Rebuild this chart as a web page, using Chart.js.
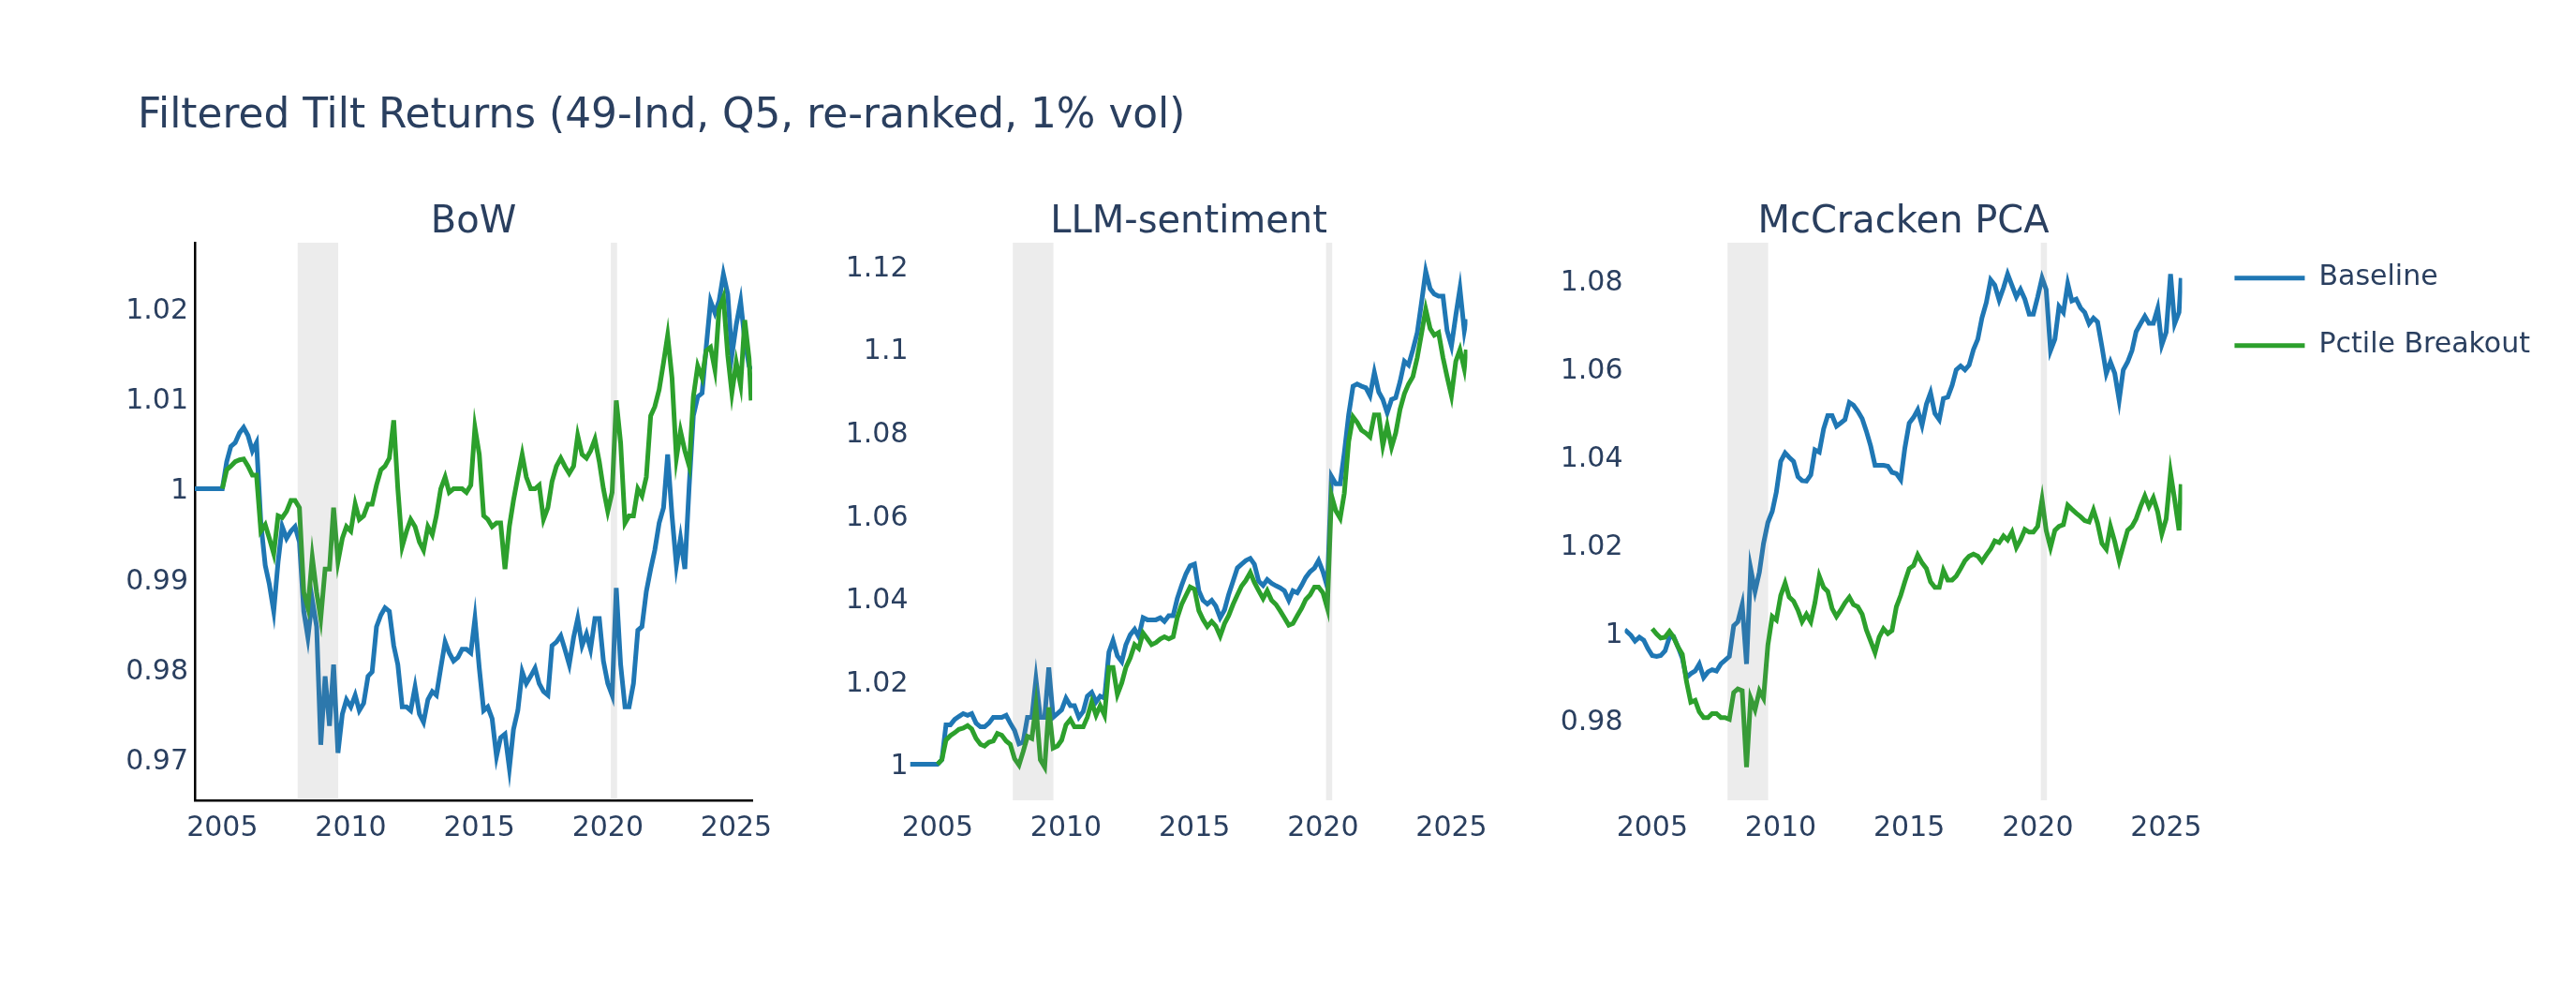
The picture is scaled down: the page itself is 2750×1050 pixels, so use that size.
<!DOCTYPE html>
<html>
<head>
<meta charset="utf-8">
<script src="https://cdn.jsdelivr.net/npm/chart.js@4.4.1/dist/chart.umd.min.js"></script>
<style>
html,body{margin:0;padding:0;background:#fff;}
#wrap{position:relative;width:2750px;height:1050px;background:#fff;overflow:hidden;}
#wrap canvas{position:absolute;left:0;top:0;}
</style>
</head>
<body>
<div id="wrap">
<canvas id="c0" width="2750" height="1050"></canvas>
<canvas id="c1" width="2750" height="1050"></canvas>
<canvas id="c2" width="2750" height="1050"></canvas>
<canvas id="c3" width="2750" height="1050"></canvas>
</div>
<script>
// ---------------- DATA ----------------
const mainTitle = 'Filtered Tilt Returns (49-Ind, Q5, re-ranked, 1% vol)';
const panelTitles = ['BoW', 'LLM-sentiment', 'McCracken PCA'];
const seriesNames = ['Baseline', 'Pctile Breakout'];
const seriesColors = ['#1f77b4', '#2ca02c'];

const years = [
  2003.93,2004.17,2004.33,2004.5,2004.67,2004.83,
  2005,2005.17,2005.33,2005.5,2005.67,2005.83,
  2006,2006.17,2006.33,2006.5,2006.67,2006.83,
  2007,2007.17,2007.33,2007.5,2007.67,2007.83,
  2008,2008.17,2008.33,2008.5,2008.67,2008.83,
  2009,2009.17,2009.33,2009.5,2009.67,2009.83,
  2010,2010.17,2010.33,2010.5,2010.67,2010.83,
  2011,2011.17,2011.33,2011.5,2011.67,2011.83,
  2012,2012.17,2012.33,2012.5,2012.67,2012.83,
  2013,2013.17,2013.33,2013.5,2013.67,2013.83,
  2014,2014.17,2014.33,2014.5,2014.67,2014.83,
  2015,2015.17,2015.33,2015.5,2015.67,2015.83,
  2016,2016.17,2016.33,2016.5,2016.67,2016.83,
  2017,2017.17,2017.33,2017.5,2017.67,2017.83,
  2018,2018.17,2018.33,2018.5,2018.67,2018.83,
  2019,2019.17,2019.33,2019.5,2019.67,2019.83,
  2020,2020.17,2020.33,2020.5,2020.67,2020.83,
  2021,2021.17,2021.33,2021.5,2021.67,2021.83,
  2022,2022.17,2022.33,2022.5,2022.67,2022.83,
  2023,2023.17,2023.33,2023.5,2023.67,2023.83,
  2024,2024.17,2024.33,2024.5,2024.67,2024.83,
  2025,2025.17,2025.33,2025.5,2025.58
];

const bowBaseline = [
  1,1,1,1,1,1,
  1.0000,1.0030,1.0047,1.0051,1.0062,1.0068,1.0059,1.0042,1.0051,0.9962,
  0.9915,0.9894,0.9864,0.9919,0.9958,0.9945,0.9953,0.9958,0.9941,0.9864,
  0.9835,0.9877,0.9847,0.9716,0.9792,0.9737,0.9805,0.9707,0.9750,0.9766,
  0.9758,0.9771,0.9754,0.9762,0.9792,0.9797,0.9847,0.9860,0.9868,0.9864,
  0.9826,0.9805,0.9758,0.9758,0.9754,0.9780,0.9750,0.9741,0.9766,0.9775,
  0.9771,0.9801,0.9830,0.9818,0.9809,0.9813,0.9822,0.9822,0.9818,0.9856,
  0.9801,0.9754,0.9758,0.9745,0.9703,0.9724,0.9728,0.9690,0.9733,0.9754,
  0.9797,0.9784,0.9792,0.9801,0.9784,0.9775,0.9771,0.9826,0.9830,0.9837,
  0.9822,0.9805,0.9835,0.9856,0.9826,0.9839,0.9822,0.9856,0.9856,0.9809,
  0.9784,0.9771,0.9890,0.9805,0.9758,0.9758,0.9784,0.9843,0.9847,0.9886,
  0.9911,0.9932,0.9962,0.9979,1.0038,0.9970,0.9915,0.9945,0.9911,1.0004,
  1.0081,1.0102,1.0106,1.0157,1.0208,1.0195,1.0208,1.0238,1.0216,1.0148,
  1.0182,1.0208,1.0165,1.0136,1.0132
];
const bowBreakout = [
  null,null,null,null,null,null,
  1.0000,1.0021,1.0025,1.0030,1.0032,1.0033,1.0025,1.0015,1.0015,0.9953,
  0.9960,0.9945,0.9928,0.9970,0.9968,0.9975,0.9987,0.9987,0.9979,0.9885,
  0.9868,0.9924,0.9885,0.9856,0.9911,0.9911,0.9979,0.9919,0.9945,0.9958,
  0.9953,0.9983,0.9966,0.9970,0.9983,0.9983,1.0004,1.0021,1.0025,1.0034,
  1.0076,1.0000,0.9936,0.9953,0.9966,0.9958,0.9941,0.9932,0.9958,0.9949,
  0.9970,1.0000,1.0013,0.9996,1.0000,1.0000,1.0000,0.9996,1.0004,1.0068,
  1.0038,0.9970,0.9966,0.9958,0.9962,0.9962,0.9911,0.9958,0.9987,1.0013,
  1.0038,1.0013,1.0000,1.0000,1.0004,0.9966,0.9979,1.0008,1.0025,1.0034,
  1.0025,1.0017,1.0025,1.0059,1.0038,1.0034,1.0042,1.0055,1.0030,1.0000,
  0.9975,0.9996,1.0098,1.0051,0.9962,0.9970,0.9970,1.0000,0.9992,1.0013,
  1.0081,1.0091,1.0110,1.0140,1.0170,1.0123,1.0034,1.0064,1.0042,1.0025,
  1.0102,1.0136,1.0123,1.0153,1.0157,1.0132,1.0199,1.0212,1.0148,1.0106,
  1.0140,1.0115,1.0187,1.0144,1.0098
];

const llmBaseline = [
  1,1,1,1,1,1,
  1.0000,1.0011,1.0095,1.0095,1.0108,1.0115,1.0122,1.0118,1.0122,1.0099,
  1.0090,1.0090,1.0099,1.0113,1.0113,1.0113,1.0118,1.0099,1.0081,1.0049,
  1.0053,1.0113,1.0113,1.0205,1.0113,1.0113,1.0233,1.0113,1.0122,1.0131,
  1.0159,1.0141,1.0141,1.0113,1.0127,1.0164,1.0173,1.0150,1.0164,1.0159,
  1.0270,1.0298,1.0261,1.0247,1.0288,1.0312,1.0325,1.0307,1.0353,1.0348,
  1.0348,1.0348,1.0353,1.0344,1.0358,1.0358,1.0399,1.0431,1.0459,1.0478,
  1.0482,1.0418,1.0395,1.0386,1.0395,1.0381,1.0353,1.0372,1.0409,1.0441,
  1.0473,1.0482,1.0491,1.0496,1.0482,1.0441,1.0431,1.0445,1.0436,1.0430,
  1.0425,1.0418,1.0395,1.0418,1.0413,1.0431,1.0450,1.0464,1.0473,1.0491,
  1.0464,1.0427,1.0694,1.0676,1.0676,1.0750,1.0842,1.0911,1.0916,1.0911,
  1.0907,1.0888,1.0944,1.0897,1.0879,1.0847,1.0879,1.0883,1.0922,1.0971,
  1.0962,1.0999,1.1040,1.1110,1.1188,1.1146,1.1133,1.1128,1.1128,1.1045,
  1.1008,1.1082,1.1146,1.1045,1.1073
];
const llmBreakout = [
  null,null,null,null,null,null,
  1.0000,1.0011,1.0058,1.0069,1.0076,1.0084,1.0087,1.0093,1.0085,1.0062,
  1.0048,1.0044,1.0053,1.0056,1.0074,1.0070,1.0056,1.0048,1.0013,0.9998,
  1.0030,1.0067,1.0062,1.0141,1.0011,0.9993,1.0137,1.0039,1.0044,1.0058,
  1.0095,1.0108,1.0090,1.0090,1.0090,1.0113,1.0150,1.0118,1.0141,1.0118,
  1.0233,1.0233,1.0168,1.0196,1.0233,1.0256,1.0288,1.0279,1.0316,1.0302,
  1.0288,1.0293,1.0302,1.0307,1.0302,1.0307,1.0353,1.0385,1.0407,1.0427,
  1.0422,1.0370,1.0349,1.0332,1.0344,1.0333,1.0309,1.0339,1.0358,1.0385,
  1.0408,1.0429,1.0443,1.0462,1.0438,1.0418,1.0399,1.0418,1.0395,1.0385,
  1.0370,1.0353,1.0335,1.0339,1.0358,1.0376,1.0397,1.0408,1.0427,1.0427,
  1.0413,1.0376,1.0648,1.0611,1.0593,1.0653,1.0777,1.0837,1.0824,1.0805,
  1.0798,1.0789,1.0842,1.0842,1.0768,1.0816,1.0764,1.0798,1.0855,1.0893,
  1.0916,1.0934,1.0980,1.1036,1.1096,1.1050,1.1034,1.1040,1.0980,1.0934,
  1.0888,1.0971,1.0999,1.0953,1.0999
];

const pcaBaseline = [
  1.0006,0.9993,0.9980,0.9989,0.9982,0.9963,0.9947,0.9945,0.9947,0.9958,
  0.9989,0.9990,0.9967,0.9941,0.9897,0.9906,0.9912,0.9928,0.9897,0.9910,
  0.9915,0.9912,0.9928,0.9936,0.9945,1.0015,1.0024,1.0063,0.9928,1.0145,
  1.0093,1.0137,1.0202,1.0250,1.0275,1.0319,1.0389,1.0408,1.0398,1.0389,
  1.0354,1.0345,1.0344,1.0358,1.0415,1.0410,1.0463,1.0493,1.0493,1.0469,
  1.0476,1.0484,1.0523,1.0517,1.0503,1.0486,1.0458,1.0424,1.0380,1.0380,
  1.0380,1.0378,1.0364,1.0361,1.0347,1.0419,1.0476,1.0489,1.0506,1.0471,
  1.0519,1.0545,1.0498,1.0484,1.0532,1.0535,1.0562,1.0597,1.0606,1.0597,
  1.0608,1.0643,1.0667,1.0715,1.0750,1.0802,1.0790,1.0756,1.0784,1.0815,
  1.0789,1.0763,1.0780,1.0758,1.0724,1.0724,1.0763,1.0806,1.0780,1.0641,
  1.0667,1.0741,1.0728,1.0793,1.0754,1.0758,1.0738,1.0728,1.0702,1.0715,
  1.0706,1.0650,1.0589,1.0615,1.0589,1.0528,1.0597,1.0615,1.0641,1.0684,
  1.0702,1.0719,1.0703,1.0703,1.0737,1.0654,1.0683,1.0815,1.0702,1.0728,
  1.0806
];
const pcaBreakout = [
  null,null,null,null,null,null,1.0008,0.9996,0.9987,0.9989,
  1.0002,0.9989,0.9967,0.9950,0.9889,0.9841,0.9845,0.9819,0.9806,0.9806,
  0.9815,0.9815,0.9806,0.9806,0.9802,0.9863,0.9871,0.9867,0.9693,0.9850,
  0.9824,0.9867,0.9850,0.9971,1.0036,1.0028,1.0084,1.0112,1.0080,1.0071,
  1.0050,1.0024,1.0041,1.0024,1.0067,1.0128,1.0102,1.0093,1.0054,1.0036,
  1.0050,1.0067,1.0080,1.0063,1.0058,1.0041,1.0006,0.9980,0.9954,0.9989,
  1.0008,0.9997,1.0004,1.0058,1.0084,1.0115,1.0145,1.0152,1.0176,1.0158,
  1.0145,1.0115,1.0102,1.0102,1.0141,1.0119,1.0119,1.0128,1.0145,1.0163,
  1.0173,1.0178,1.0173,1.0161,1.0176,1.0190,1.0208,1.0204,1.0219,1.0210,
  1.0228,1.0193,1.0210,1.0234,1.0228,1.0228,1.0241,1.0302,1.0232,1.0193,
  1.0232,1.0241,1.0245,1.0289,1.0280,1.0271,1.0263,1.0254,1.0251,1.0278,
  1.0248,1.0202,1.0189,1.0241,1.0206,1.0163,1.0197,1.0232,1.0241,1.0258,
  1.0286,1.0310,1.0286,1.0306,1.0274,1.0224,1.0258,1.0363,1.0302,1.0232,
  1.0337
];

// shaded recession periods (decimal years)
const recessionStart = [2007.93, 2020.12];
const recessionEnd   = [2009.51, 2020.36];

// axis ticks
const xTicks = [2005, 2010, 2015, 2020, 2025];
const xTickLabels = ['2005', '2010', '2015', '2020', '2025'];
const bowYTicks = [0.97, 0.98, 0.99, 1, 1.01, 1.02];
const bowYLabels = ['0.97', '0.98', '0.99', '1', '1.01', '1.02'];
const llmYTicks = [1, 1.02, 1.04, 1.06, 1.08, 1.1, 1.12];
const llmYLabels = ['1', '1.02', '1.04', '1.06', '1.08', '1.1', '1.12'];
const pcaYTicks = [0.98, 1, 1.02, 1.04, 1.06, 1.08];
const pcaYLabels = ['0.98', '1', '1.02', '1.04', '1.06', '1.08'];

// axis ranges
const xMin = 2003.93, xMax = 2025.62;
const bowYRange = [0.96544, 1.02729];
const llmYRange = [0.9913, 1.12567];
const pcaYRange = [0.96177, 1.08864];

// ---------------- RENDER ----------------
const FONT = '"DejaVu Sans", Verdana, sans-serif';
const TEXT = '#2a3f5f';
Chart.defaults.font.family = FONT;
Chart.defaults.color = TEXT;

const W = 2750, H = 1050;
const Y_W = 100;      // width reserved for y-axis labels
const X_H = 196;      // height reserved below plot area
const PLOT_TOP = 259;

const recessionPlugin = {
  id: 'recessions',
  afterDatasetsDraw(chart) {
    const {ctx, chartArea, scales} = chart;
    ctx.save();
    ctx.fillStyle = 'rgba(128,128,128,0.15)';
    for (let k = 0; k < recessionStart.length; k++) {
      const x1 = scales.x.getPixelForValue(recessionStart[k]);
      const x2 = scales.x.getPixelForValue(recessionEnd[k]);
      ctx.fillRect(x1, chartArea.top, x2 - x1, chartArea.bottom - chartArea.top);
    }
    ctx.restore();
  }
};

function pts(vals) {
  return years.map((x, i) => ({x: x, y: vals[i]}));
}

function makePanel(id, title, base, brk, yRange, yTicks, yLabels, areaLeft, areaRight, axisLine, yPad) {
  return new Chart(document.getElementById(id), {
    type: 'line',
    data: {
      datasets: [
        {label: seriesNames[0], data: pts(base), borderColor: seriesColors[0], backgroundColor: seriesColors[0],
         borderWidth: 5, pointRadius: 0, tension: 0, order: 1, spanGaps: false},
        {label: seriesNames[1], data: pts(brk), borderColor: seriesColors[1], backgroundColor: seriesColors[1],
         borderWidth: 5, pointRadius: 0, tension: 0, order: 0, spanGaps: false}
      ]
    },
    options: {
      responsive: false,
      animation: false,
      events: [],
      layout: {padding: {left: areaLeft - Y_W, right: W - areaRight, top: 0, bottom: 0}},
      plugins: {
        legend: {display: false},
        tooltip: {enabled: false},
        title: {
          display: true, text: title, fullSize: false, align: 'center', color: TEXT,
          font: {size: 40, family: FONT, weight: 'normal', lineHeight: 1.0},
          padding: {top: 218, bottom: PLOT_TOP - 218 - 40}
        }
      },
      scales: {
        x: {
          type: 'linear', min: xMin, max: xMax,
          grid: {display: false, drawTicks: false},
          border: {display: axisLine, color: '#000', width: 2.5},
          afterFit(s) { s.height = X_H; },
          afterBuildTicks(s) { s.ticks = xTicks.map(v => ({value: v})); },
          ticks: {autoSkip: false, maxRotation: 0, minRotation: 0, padding: 12, color: TEXT,
                  font: {size: 30, family: FONT}, callback: (v, i) => xTickLabels[i]}
        },
        y: {
          type: 'linear', min: yRange[0], max: yRange[1],
          grid: {display: false, drawTicks: false},
          border: {display: axisLine, color: '#000', width: 2.5},
          afterFit(s) { s.width = Y_W; },
          afterBuildTicks(s) { s.ticks = yTicks.map(v => ({value: v})); },
          ticks: {autoSkip: false, padding: yPad, labelOffset: 3, color: TEXT,
                  font: {size: 30, family: FONT}, callback: (v, i) => yLabels[i]}
        }
      }
    },
    plugins: [recessionPlugin]
  });
}

// Frame chart: main title + legend
new Chart(document.getElementById('c0'), {
  type: 'line',
  data: {
    datasets: [
      {label: seriesNames[0], data: [], borderColor: seriesColors[0], backgroundColor: seriesColors[0], borderWidth: 5},
      {label: seriesNames[1], data: [], borderColor: seriesColors[1], backgroundColor: seriesColors[1], borderWidth: 5}
    ]
  },
  options: {
    responsive: false,
    animation: false,
    events: [],
    layout: {padding: {left: 147, right: 39, top: 0, bottom: 0}},
    scales: {x: {display: false}, y: {display: false}},
    plugins: {
      tooltip: {enabled: false},
      title: {
        display: true, text: mainTitle, align: 'start', fullSize: true, color: TEXT,
        font: {size: 43.8, family: FONT, weight: 'normal'},
        padding: {top: 98, bottom: 89.1}
      },
      legend: {
        display: true, position: 'right', align: 'start', fullSize: false,
        labels: {usePointStyle: true, pointStyle: 'line', pointStyleWidth: 75, padding: 42,
                 color: TEXT, font: {size: 30, family: FONT}}
      }
    }
  }
});

makePanel('c1', panelTitles[0], bowBaseline, bowBreakout, bowYRange, bowYTicks, bowYLabels, 208, 803, true, 7);
makePanel('c2', panelTitles[1], llmBaseline, llmBreakout, llmYRange, llmYTicks, llmYLabels, 971.5, 1566.5, false, 2);
makePanel('c3', panelTitles[2], pcaBaseline, pcaBreakout, pcaYRange, pcaYTicks, pcaYLabels, 1734.5, 2329.5, false, 2);
</script>
</body>
</html>
